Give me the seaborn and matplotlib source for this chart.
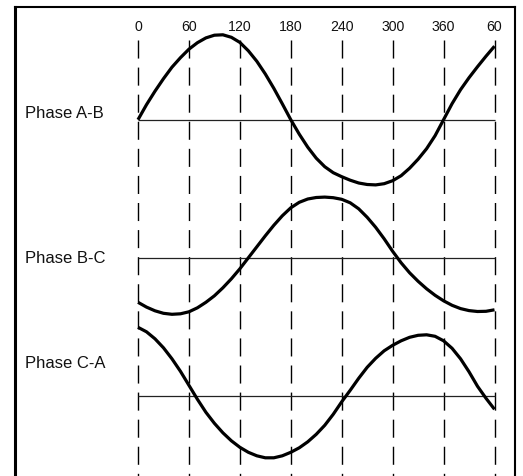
import numpy as np
import pandas as pd
import seaborn as sns
import matplotlib.pyplot as plt

# ---- data ----
degrees = list(range(0, 421, 10))
tick_positions = [0, 60, 120, 180, 240, 300, 360, 420]
tick_labels = ["0", "60", "120", "180", "240", "300", "360", "60"]
phase_names = ["Phase A-B", "Phase B-C", "Phase C-A"]

phase_ab = [0, 15, 28.5, 41, 52.5, 62, 70.5, 77, 81.8, 84.5,
            84.9, 82.4, 77.3, 68.9, 58.4, 45.7, 31.4, 15.9, 0, -14.5,
            -27.5, -38.5, -47, -53, -57, -60.5, -63.3, -64.8, -65.2, -64,
            -61, -56, -48.5, -39.5, -29, -16, 0, 16, 30, 42,
            53, 63.5, 73.5]
phase_bc = [-44, -48.8, -52.5, -55, -56, -55.5, -53.5, -49.5, -44, -37.5,
            -29.5, -20.5, -10.5, 0.5, 11.5, 22.5, 33, 42.5, 50.5, 56,
            59.3, 60.8, 61.2, 60.6, 59, 55.5, 49.5, 41, 31, 19.5,
            7, -4.5, -14.5, -23, -30.5, -37, -42.5, -47, -50.3, -52.3,
            -53.2, -53, -51.5]
phase_ca = [69, 64.5, 57.5, 48.5, 37.5, 25, 11, -3, -16, -27,
            -36.5, -44.5, -51, -56, -59.5, -61.5, -61.5, -59.5, -56, -51.5,
            -45.5, -38, -29, -18, -5.5, 6, 18, 29, 38, 45.5,
            51, 55.5, 59, 61, 61.5, 60, 55.5, 48, 37.5, 24.5,
            10, -2, -13]

# ---- layout (pixel geometry of the reference) ----
W_PX, H_PX = 523, 477
PX0 = 138.0
K = (494.5 - 138.0) / 420.0          # px per degree
BOX_L, BOX_R, BOX_T, BOX_B = 14.5, 514.7, 8.0, 490.0
baselines = [120.7, 259.3, 397.3]
label_offsets = [7, 0.6, 33.6]

sns.set_theme(style="white")
plt.rcParams["font.family"] = ["Liberation Sans", "DejaVu Sans"]

fig = plt.figure(figsize=(W_PX / 100, H_PX / 100), dpi=100)
ax = fig.add_axes([BOX_L / W_PX, 1 - BOX_B / H_PX,
                   (BOX_R - BOX_L) / W_PX, (BOX_B - BOX_T) / H_PX])

# dashed verticals
ax.vlines(tick_positions, 41, BOX_B, colors="black", linewidth=1.0,
          linestyles=[(0, (13, 6.5))])

series = [phase_ab, phase_bc, phase_ca]
for name, vals, base, off in zip(phase_names, series, baselines, label_offsets):
    ax.hlines(base, 0, 420, colors="#222222", linewidth=0.9)
    df = pd.DataFrame({"deg": degrees, "y": base - np.array(vals, dtype=float)})
    sns.lineplot(data=df, x="deg", y="y", color="black", linewidth=2.3,
                 ax=ax, sort=True, solid_joinstyle="round",
                 solid_capstyle="butt")
    ax.text((25 - PX0) / K, base - off, name, ha="left", va="center",
            fontsize=12, color="#111111")

for t, lab in zip(tick_positions, tick_labels):
    ax.text(t, 27, lab, ha="center", va="center", fontsize=10.2, color="#111111")

ax.set_xlim((BOX_L - PX0) / K, (BOX_R - PX0) / K)
ax.set_ylim(BOX_B, BOX_T)
ax.set_xticks([])
ax.set_yticks([])
ax.set_xlabel("")
ax.set_ylabel("")
for side, lw in [("left", 2.2), ("top", 1.5), ("right", 1.5)]:
    ax.spines[side].set_visible(True)
    ax.spines[side].set_linewidth(lw)
    ax.spines[side].set_color("black")
ax.spines["bottom"].set_visible(False)

fig.savefig("out.png", dpi=100)
